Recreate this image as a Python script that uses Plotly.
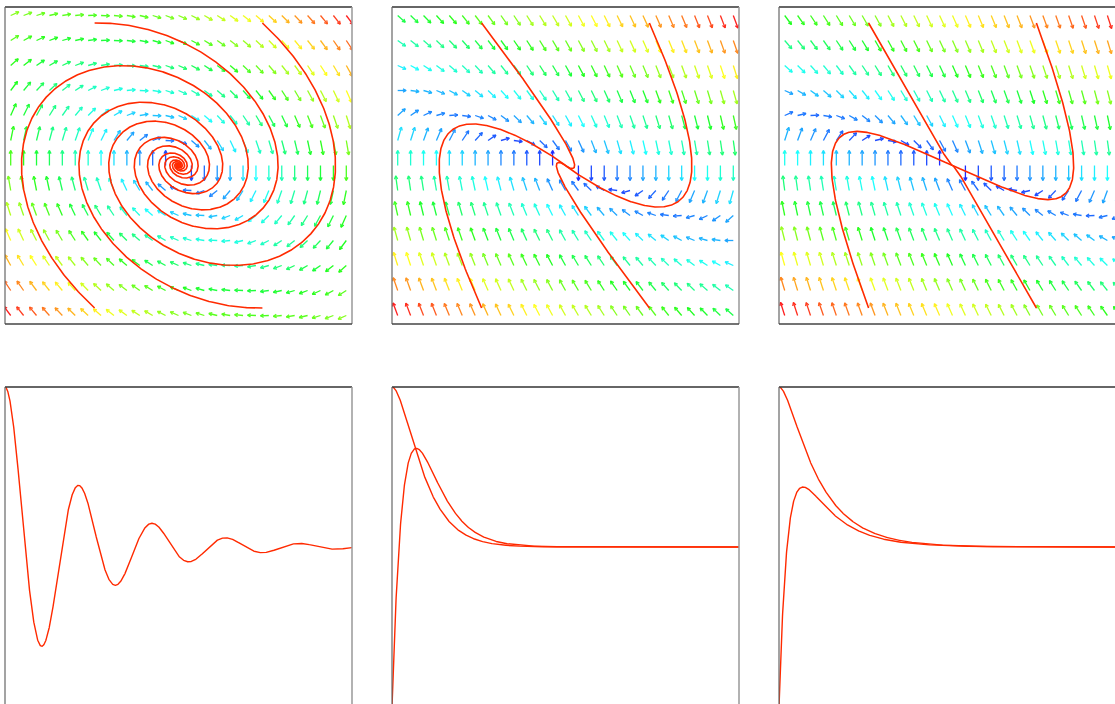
import colorsys
import numpy as np
import plotly.graph_objects as go

# ---------------- data ----------------
omega_sq = 0.25                      # stiffness term of x'' + c x' + w^2 x = 0
damping_top = [0.25, 1.0, 1.25]      # c for the three phase portraits
damping_bottom = [0.15, 1.0, 1.25]   # c for the three time series
grid_x = [-2 + i * (4 / 26) for i in range(27)]   # quiver columns
grid_v = [-1 + j * (2 / 12) for j in range(13)]   # quiver rows
start_x = [-1.0, 1.0, -1.0, 1.0]     # trajectory starting points
start_v = [0.95, 0.95, -0.95, -0.95]
traj_duration = [150, 60, 60]
series_x0 = [1.0, -1.0]              # time-series initial conditions
series_v0 = [0.0, 1.75]
series_count = [1, 2, 2]
series_T = [60, 40, 40]

# ---------------- layout geometry (pixels) ----------------
W, H = 1115, 704
col_px = [(5, 352), (392, 739), (779, 1126)]
row_px = [(7, 324), (387, 704)]
SX, SY = 83.9, 150.0                 # px per data unit in the phase portraits
ARROW_LEN = 0.1
HEAD_PX = 3.5
HEAD_ANG = np.radians(28)
RED = "#ff2a00"

fig = go.Figure()


def rk4(c, x, v, dt, n):
    xs, vs = [x], [v]
    f = lambda a, b: (b, -omega_sq * a - c * b)
    for _ in range(n):
        k1 = f(x, v)
        k2 = f(x + dt / 2 * k1[0], v + dt / 2 * k1[1])
        k3 = f(x + dt / 2 * k2[0], v + dt / 2 * k2[1])
        k4 = f(x + dt * k3[0], v + dt * k3[1])
        x += dt / 6 * (k1[0] + 2 * k2[0] + 2 * k3[0] + k4[0])
        v += dt / 6 * (k1[1] + 2 * k2[1] + 2 * k3[1] + k4[1])
        xs.append(x)
        vs.append(v)
    return xs, vs


def ax_name(i):
    return "" if i == 1 else str(i)


shapes = []
for row in range(2):
    for col in range(3):
        idx = row * 3 + col + 1
        n = ax_name(idx)
        x0p, x1p = col_px[col]
        y0p, y1p = row_px[row]
        cut_right = x1p > W
        vis_x1 = min(x1p, W)
        dom_x = [x0p / W, vis_x1 / W]
        dom_y = [1 - y1p / H, 1 - y0p / H]
        width_px = x1p - x0p
        vis_w = vis_x1 - x0p
        if row == 0:
            half = width_px / 2 / SX
            xr = [-half, -half + vis_w / SX]
            yh = (y1p - y0p) / 2 / SY
            yr = [-yh, yh]
        else:
            T = series_T[col]
            xr = [0, T * vis_w / width_px]
            yr = [-(y1p - 547) / 160.0, 1.0]
        fig.layout["xaxis" + n] = dict(domain=dom_x, range=xr, showgrid=False, zeroline=False,
                                        showticklabels=False, ticks="", showline=False,
                                        anchor="y" + n, fixedrange=True)
        fig.layout["yaxis" + n] = dict(domain=dom_y, range=yr, showgrid=False, zeroline=False,
                                        showticklabels=False, ticks="", showline=False,
                                        anchor="x" + n, fixedrange=True)
        xref, yref = "x" + n + " domain", "y" + n + " domain"
        shapes.append(dict(type="line", xref=xref, yref=yref, x0=0, x1=1, y0=1, y1=1,
                           line=dict(color="#333", width=1.5)))
        shapes.append(dict(type="line", xref=xref, yref=yref, x0=0, x1=0, y0=0, y1=1,
                           line=dict(color="#666", width=1.2)))
        if not cut_right:
            shapes.append(dict(type="line", xref=xref, yref=yref, x0=1, x1=1, y0=0, y1=1,
                               line=dict(color="#999", width=1.5)))
        if row == 0:
            shapes.append(dict(type="line", xref=xref, yref=yref, x0=0, x1=1, y0=0, y1=0,
                               line=dict(color="#444", width=1.5)))

        if row == 0:
            c = damping_top[col]
            # ----- quiver field -----
            arrows = []
            for xv in grid_x:
                for vv in grid_v:
                    u = vv
                    w = -omega_sq * xv - c * vv
                    nrm = np.hypot(u, w)
                    if nrm < 1e-9:
                        continue
                    mag = np.hypot(u / 2, w)
                    arrows.append((xv, vv, u / nrm, w / nrm, mag))
            mmax = max(a[4] for a in arrows)
            bins = {}
            for xv, vv, du, dw, mag in arrows:
                r = mag / mmax
                hue = 240 * (1 - r)
                hb = int(round(hue / 4) * 4)
                tx, ty = xv + ARROW_LEN * du, vv + ARROW_LEN * dw
                pxv, pyv = du * SX, dw * SY
                pl = np.hypot(pxv, pyv)
                ux, uy = -pxv / pl, -pyv / pl
                pts = []
                for s in (1, -1):
                    ca, sa = np.cos(s * HEAD_ANG), np.sin(s * HEAD_ANG)
                    bx = ux * ca - uy * sa
                    by = ux * sa + uy * ca
                    pts.append((tx + bx * HEAD_PX / SX, ty + by * HEAD_PX / SY))
                seg_x = [xv, tx, None, pts[0][0], tx, pts[1][0], None]
                seg_y = [vv, ty, None, pts[0][1], ty, pts[1][1], None]
                bx_, by_ = bins.setdefault(hb, ([], []))
                bx_.extend(seg_x)
                by_.extend(seg_y)
            for hb in sorted(bins):
                rr, gg, bb = colorsys.hsv_to_rgb((hb % 360) / 360.0, 0.88, 1.0)
                colr = "rgb(%d,%d,%d)" % (rr * 255, gg * 255, bb * 255)
                fig.add_trace(go.Scatter(x=bins[hb][0], y=bins[hb][1], mode="lines",
                                         line=dict(color=colr, width=1.3),
                                         xaxis="x" + n, yaxis="y" + n,
                                         hoverinfo="skip", showlegend=False))
            # ----- trajectories -----
            dt = 0.02
            for sx0, sv0 in zip(start_x, start_v):
                xs, vs = rk4(c, sx0, sv0, dt, int(traj_duration[col] / dt))
                fig.add_trace(go.Scatter(x=xs, y=vs, mode="lines",
                                         line=dict(color=RED, width=1.6),
                                         xaxis="x" + n, yaxis="y" + n,
                                         hoverinfo="skip", showlegend=False))
        else:
            c = damping_bottom[col]
            T = series_T[col]
            dt = 0.02
            steps = int(T / dt)
            for k in range(series_count[col]):
                xs, _ = rk4(c, series_x0[k], series_v0[k], dt, steps)
                ts = [i * dt for i in range(steps + 1)]
                fig.add_trace(go.Scatter(x=ts, y=xs, mode="lines",
                                         line=dict(color=RED, width=1.4),
                                         xaxis="x" + n, yaxis="y" + n,
                                         hoverinfo="skip", showlegend=False))

fig.update_layout(width=W, height=H, margin=dict(l=0, r=0, t=0, b=0),
                  paper_bgcolor="white", plot_bgcolor="white", shapes=shapes,
                  showlegend=False, hovermode=False)
fig.write_html("out.html", config={"displayModeBar": False, "staticPlot": True},
               post_script="document.body.style.margin='0px';"
                           "document.body.style.overflow='hidden';")
